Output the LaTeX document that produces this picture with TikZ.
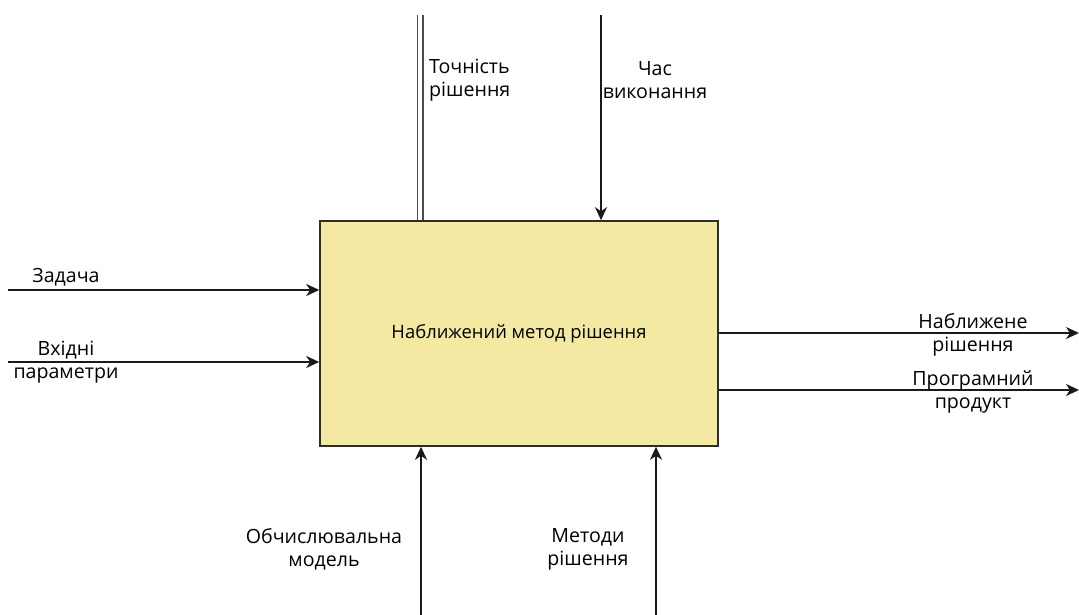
\documentclass[tikz,border=0pt]{standalone}
\usepackage{fontspec}
\setmainfont{Open Sans}
\usetikzlibrary{arrows.meta}
\definecolor{boxfill}{RGB}{243,233,163}
\definecolor{boxline}{RGB}{45,45,45}
\tikzset{
  lbl/.style={align=center,font=\fontsize{19.6}{23}\selectfont,text=black,inner sep=0pt},
  conn/.style={line width=1.6pt,color=black!90}
}

\begin{document}
\begin{tikzpicture}[line cap=butt,line join=miter,>={Stealth[length=13pt,width=12pt,inset=4pt]},x=1pt,y=-1pt]
      \useasboundingbox (0,0) rectangle (1079,615);
      % main activity box
      \node[draw=boxline,fill=boxfill,line width=1.6pt,minimum width=398pt,minimum height=225pt,lbl,font=\fontsize{18.4}{23}\selectfont] (box) at (519,333.5) {Наближений метод рішення};
      % free ends
      \coordinate (ctrlA) at (420,15);
      \coordinate (ctrlB) at (601,15);
      \coordinate (inA) at (8,290);
      \coordinate (inB) at (8,362);
      \coordinate (outA) at (1079,333);
      \coordinate (outB) at (1079,390);
      \coordinate (mechA) at (421,615);
      \coordinate (mechB) at (656,615);
      % controls
      \draw[conn,line width=1.7pt,double=white,double distance=3.6pt,color=black!70] (ctrlA) -- (ctrlA |- box.north);
      \draw[conn,->] (ctrlB) -- (ctrlB |- box.north);
      % inputs
      \draw[conn,->] (inA) -- (inA -| box.west);
      \draw[conn,->] (inB) -- (inB -| box.west);
      % outputs
      \draw[conn,->] (outA -| box.east) -- (outA);
      \draw[conn,->] (outB -| box.east) -- (outB);
      % mechanisms
      \foreach \m in {mechA,mechB}
      \draw[conn,->] (\m) -- (\m |- box.south);
      % labels
      \node[lbl,align=left,anchor=west] (lctrlA) at (429,80.5) {Точність\\рішення};
      \node[lbl] (lctrlB) at (655,80.5) {Час\\виконання};
      \node[lbl] (linA) at (66,277) {Задача};
      \node[lbl] (linB) at (66,362.5) {Вхідні\\параметри};
      \node[lbl] (loutA) at (973,334.5) {Наближене\\рішення};
      \node[lbl] (loutB) at (973,391.5) {Програмний\\продукт};
      \node[lbl] (lmechA) at (324,549.5) {Обчислювальна\\модель};
      \node[lbl] (lmechB) at (588,549.5) {Методи\\рішення};
\end{tikzpicture}
\end{document}
